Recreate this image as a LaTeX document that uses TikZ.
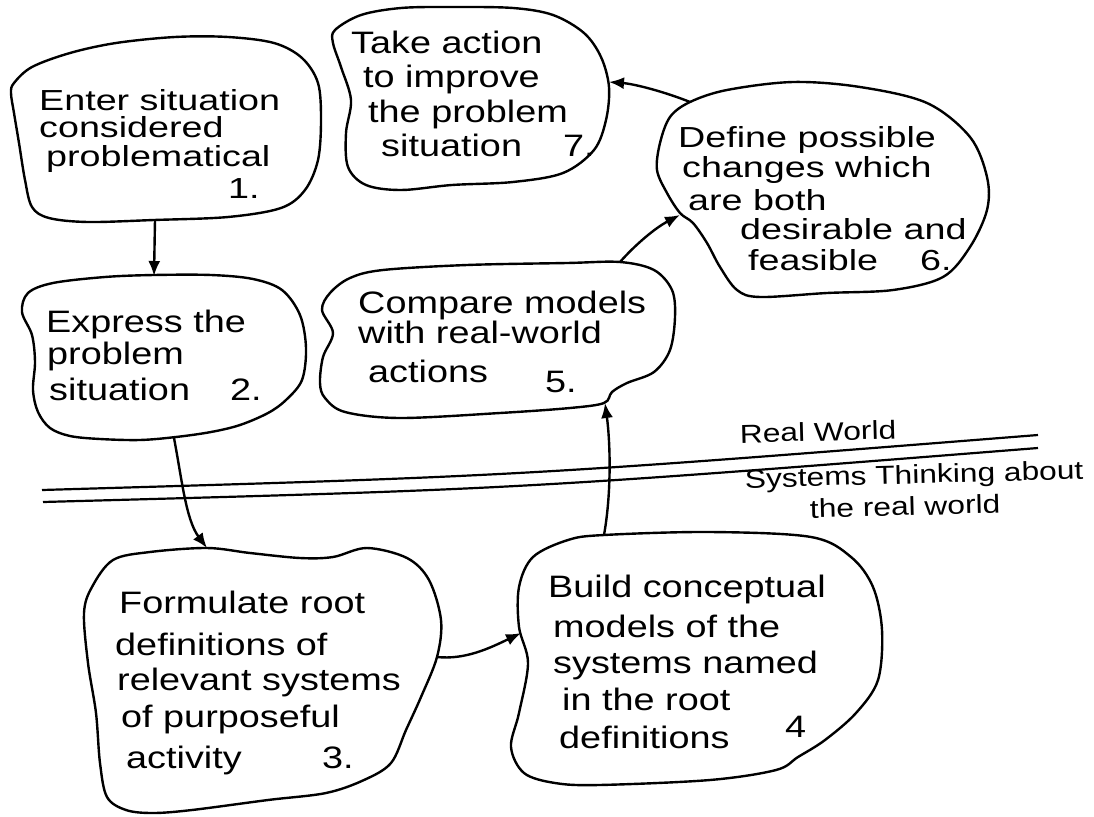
\documentclass[tikz,border=0pt]{standalone}
\usepackage{fontspec}
\setmainfont{Liberation Sans}
\newfontfamily\handfont[FakeStretch=1.22]{Liberation Sans}
\newfontfamily\handwide[FakeStretch=1.3]{Liberation Sans}
\usetikzlibrary{arrows.meta}

% one block of hand-set lines: first line's baseline is the block's baseline
\newcommand\handlines[2]{\vtop{\baselineskip=#1pt\lineskiplimit=-99pt #2}}

\begin{document}
\begin{tikzpicture}[x=1pt,y=-1pt,
  outline/.style={line width=2.4pt, line join=round},
  flow/.style={line width=2.4pt, -{Latex[length=15pt,width=12pt]}},
  border/.style={line width=2.2pt},
  txt/.style={anchor=base west, inner sep=0pt, font=\handfont\fontsize{31}{31}\selectfont},
  txtsmall/.style={anchor=base west, inner sep=0pt, font=\handwide\fontsize{29}{29}\selectfont},
  side/.style={anchor=base west, inner sep=0pt, font=\handfont\fontsize{26}{26}\selectfont, rotate=1.5}]

\fill[white] (0,0) rectangle (1094,816);
\useasboundingbox (0,0) rectangle (1094,816);

% ---- outlines of the seven stages ----
\draw[outline] plot[smooth cycle, tension=0.55] coordinates {
  (14,83) (32,67) (70,53) (116,43) (175,37) (228,37) (274,43) (302,58) (318,83)
  (321,120) (318,160) (305,190) (281,208) (228,217) (154,220) (88,222) (49,218)
  (32,207) (25,180) (19,143) (14,113) (11,93)};
\draw[outline] plot[smooth cycle, tension=0.55] coordinates {
  (28,293) (53,283) (105,277) (154,275) (211,275) (253,279) (282,290) (300,315)
  (306,348) (302,380) (286,400) (268,413) (240,425) (211,432) (176,437) (140,440)
  (100,439) (70,436) (50,428) (38,412) (33,390) (35,362) (32,335) (22,312)};
\draw[outline] plot[smooth cycle, tension=0.55] coordinates {
  (113,560) (150,552) (207,548) (250,553) (300,558) (333,557) (367,548) (407,558)
  (429,580) (441,620) (437,657) (421,697) (406,730) (391,763) (364,780) (326,793)
  (268,800) (192,810) (153,813) (126,810) (107,797) (100,763) (96,713) (88,663)
  (84,613) (92,587)};
\draw[outline] plot[smooth cycle, tension=0.55] coordinates {
  (604,535) (710,532) (811,537) (851,557) (873,587) (882,630) (878,680) (856,713)
  (825,740) (798,757) (776,770) (710,780) (599,785) (555,783) (524,773) (511,747)
  (519,713) (528,663) (519,627) (519,587) (533,557) (568,540)};
\draw[outline] plot[smooth cycle, tension=0.55] coordinates {
  (330,293) (350,278) (383,270) (467,265) (567,263) (620,262) (654,270) (672,290)
  (675,317) (670,350) (654,372) (627,383) (612,392) (604,403) (570,408) (500,413)
  (400,418) (345,412) (325,398) (320,383) (323,357) (333,333) (322,310)};
\draw[outline] plot[smooth cycle, tension=0.55] coordinates {
  (690,102) (727,90) (793,82) (860,87) (927,103) (970,137) (987,177) (987,210)
  (970,247) (943,277) (893,290) (827,293) (760,297) (737,290) (720,267) (707,243)
  (693,223) (680,213) (667,193) (657,170) (660,143) (670,117)};
\draw[outline] plot[smooth cycle, tension=0.55] coordinates {
  (335,30) (361,15) (401,8) (452,7) (513,8) (553,15) (584,33) (601,57) (609,87)
  (606,120) (594,150) (563,173) (513,182) (452,185) (401,190) (366,185) (348,167)
  (346,133) (351,100) (341,67) (333,43)};

% ---- stage texts ----
\node[txtsmall] (s1) at (39,110) {\handlines{28}{\hbox{Enter situation}\hbox{considered}%
  \hbox{\kern7pt problematical}\vskip4pt\hbox{\kern189pt 1.}}};
\node[txt] (s2) at (46,332) {\handlines{32}{\hbox{Express the}\hbox{\kern1pt problem}%
  \vskip4pt\hbox{\kern3pt\makebox[181pt][l]{situation}2.}}};
\node[txt] (s3) at (119,613) {\handlines{38}{\hbox{Formulate root}\vskip4pt%
  \hbox{\kern-4pt definitions of}\vskip-3pt\hbox{\kern-2pt relevant systems}\vskip-1pt%
  \hbox{\kern2pt of purposeful}\vskip3pt\hbox{\kern7pt\makebox[196pt][l]{activity}3.}}};
\node[txt] (s4) at (548,597) {\handlines{37}{\hbox{Build conceptual}\vskip3pt%
  \hbox{\kern5pt models of the}\vskip-1pt\hbox{\kern5pt systems named}%
  \hbox{\kern14pt in the root}\vskip1pt\hbox{\kern11pt\makebox[226pt][l]{definitions}\raisebox{11pt}{4}}}};
\node[txt] (s5) at (358,313) {\handlines{30}{\hbox{Compare models}\hbox{with real-world}%
  \vskip9pt\hbox{\kern10pt\makebox[177pt][l]{actions}\raisebox{-10pt}{5.}}}};
\node[txtsmall] (s6) at (678,147) {\handlines{30}{\hbox{Define possible}\hbox{\kern4pt changes which}%
  \vskip3pt\hbox{\kern10pt are both}\vskip-1pt\hbox{\kern62pt desirable and}%
  \vskip1pt\hbox{\kern70pt\makebox[172pt][l]{feasible}6.}}};
\node[txt] (s7) at (351,53) {\handlines{35}{\hbox{Take action}\hbox{\kern12pt to improve}%
  \hbox{\kern17pt the problem}\vskip-1pt\hbox{\kern30pt\makebox[182pt][l]{situation}7.}}};

% ---- boundary between the real world and systems thinking ----
\coordinate (bdl1) at (42,490);  \coordinate (bdr1) at (1038,435);
\coordinate (bdl2) at (43,502);  \coordinate (bdr2) at (1038,448);
\draw[border] (bdl1) .. controls (520,476) .. (bdr1);
\draw[border] (bdl2) .. controls (520,489) .. (bdr2);
\node[side] (rw) at (740,443) {Real World};
\node[side] (st1) at (745,488) {Systems Thinking about};
\node[side] (st2) at (810,518) {the real world};

% ---- connection points on the outlines ----
\coordinate (o1) at (155,220);  \coordinate (i2) at (154,276);
\coordinate (o2) at (174,438);  \coordinate (i3) at (207,548);
\coordinate (o3) at (437,657);  \coordinate (i4) at (521,633);
\coordinate (o4) at (604,535);  \coordinate (i5) at (605,403);
\coordinate (o5) at (620,262);  \coordinate (i6) at (680,215);
\coordinate (o6) at (690,102);  \coordinate (i7) at (609,82);

% ---- flow of the method ----
\draw[flow] (o1) -- (i2);
\draw[flow] (o2) .. controls (182,480) and (186,520) .. (i3);
\draw[flow] (o3) .. controls (465,660) and (490,648) .. (i4);
\draw[flow] (o4) .. controls (612,490) and (610,440) .. (i5);
\draw[flow] (o5) .. controls (635,245) and (655,228) .. (i6);
\draw[flow] (o6) .. controls (665,92) and (635,84) .. (i7);
\end{tikzpicture}
\end{document}
